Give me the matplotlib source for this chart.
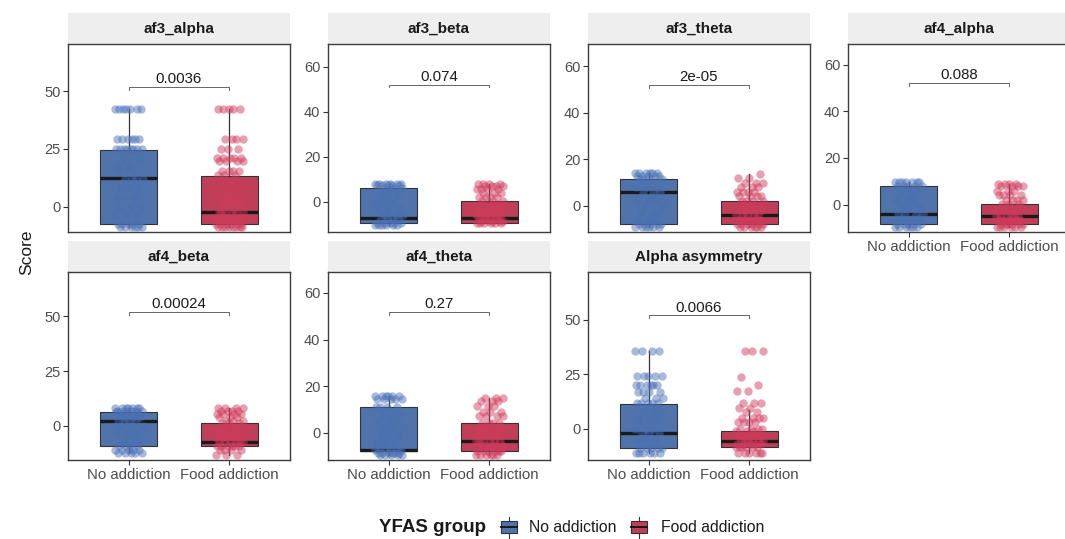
import matplotlib.pyplot as plt
from matplotlib.patches import Rectangle
import numpy as np

plt.rcParams['font.family'] = ['Liberation Sans', 'DejaVu Sans']

# facets in facet_wrap order
panels = ['af3_alpha', 'af3_beta', 'af3_theta', 'af4_alpha',
          'af4_beta', 'af4_theta', 'Alpha asymmetry']
groups = ['No addiction', 'Food addiction']
p_values = ['0.0036', '0.074', '2e-05', '0.088', '0.00024', '0.27', '0.0066']

# box statistics per panel: whisker low, Q1, median, Q3, whisker high
no_whislo = [-8.8, -10.5, -9.0, -9.5, -12.5, -9.6, -11.1]
no_q1 = [-7.7, -9.7, -8.0, -8.4, -9.0, -7.7, -8.9]
no_med = [12.2, -7.4, 6.1, -4.0, 2.3, -7.2, -1.7]
no_q3 = [24.6, 6.0, 11.4, 8.1, 6.3, 11.2, 11.5]
no_whishi = [42.4, 8.0, 14.0, 9.5, 8.1, 15.8, 35.9]

food_whislo = [-8.8, -9.7, -9.0, -9.5, -13.0, -9.5, -11.0]
food_q1 = [-7.7, -9.7, -8.0, -8.4, -9.0, -7.7, -8.4]
food_med = [-2.2, -7.2, -4.0, -4.8, -7.2, -3.4, -5.4]
food_q3 = [13.4, 0.3, 2.2, 0.3, 1.2, 4.0, -0.8]
food_whishi = [42.4, 8.0, 13.5, 9.0, 8.0, 15.0, 8.7]

# individual scores as (value, count)
no_points = [
    [(42.4, 7), (29.2, 6), (25.0, 8), (21.0, 2), (17.0, 2), (12.0, 4), (8.0, 3),
     (4.0, 3), (0.0, 3), (-4.0, 3), (-7.7, 5), (-8.8, 6)],
    [(8.0, 6), (7.2, 5), (6.0, 4), (3.0, 3), (0.0, 3), (-3.0, 3), (-6.0, 3),
     (-7.5, 4), (-9.7, 5), (-10.5, 6)],
    [(14.0, 6), (13.0, 5), (11.4, 4), (8.0, 3), (6.1, 3), (3.0, 3), (0.0, 2),
     (-3.0, 3), (-6.0, 3), (-8.0, 5), (-9.0, 6)],
    [(9.5, 7), (8.1, 5), (5.0, 3), (2.0, 3), (-1.0, 3), (-4.0, 4), (-6.0, 3),
     (-8.4, 5), (-9.5, 6)],
    [(8.1, 7), (7.0, 5), (6.3, 4), (4.0, 3), (2.3, 4), (0.0, 3), (-3.0, 3),
     (-6.0, 3), (-9.0, 4), (-11.0, 5), (-12.5, 5)],
    [(15.8, 6), (14.5, 5), (11.2, 4), (8.0, 3), (5.0, 3), (2.0, 3), (-1.0, 3),
     (-4.0, 3), (-7.4, 6), (-8.5, 6), (-9.6, 5)],
    [(35.9, 4), (24.3, 5), (20.2, 6), (17.0, 4), (14.0, 3), (11.8, 5), (8.0, 3),
     (4.0, 3), (0.0, 3), (-1.7, 3), (-5.0, 3), (-8.9, 5), (-11.1, 6)],
]
food_points = [
    [(42.4, 5), (29.2, 4), (25.0, 3), (21.2, 5), (19.7, 4), (15.4, 4), (13.5, 3),
     (10.0, 3), (6.0, 3), (2.0, 4), (-2.2, 6), (-5.0, 5), (-7.7, 6), (-8.8, 8)],
    [(8.0, 4), (7.0, 4), (5.5, 4), (4.0, 3), (2.0, 4), (0.3, 3), (-2.0, 4),
     (-4.0, 4), (-6.0, 4), (-7.2, 6), (-8.5, 5), (-9.7, 6)],
    [(13.5, 1), (12.0, 2), (10.0, 3), (8.0, 3), (6.0, 4), (4.0, 4), (2.2, 4),
     (0.0, 4), (-2.0, 4), (-4.0, 5), (-6.0, 5), (-8.0, 6), (-9.0, 6)],
    [(9.0, 4), (8.0, 4), (6.0, 3), (4.0, 4), (2.0, 4), (0.3, 3), (-2.0, 4),
     (-4.8, 6), (-6.5, 5), (-8.4, 6), (-9.5, 6)],
    [(8.0, 4), (7.0, 4), (5.5, 4), (4.0, 3), (2.5, 3), (1.2, 3), (-1.0, 3),
     (-3.0, 4), (-5.0, 4), (-7.2, 6), (-9.0, 6), (-11.0, 4), (-13.0, 3)],
    [(15.0, 3), (13.5, 3), (11.5, 3), (9.0, 3), (7.0, 4), (4.0, 4), (2.0, 4),
     (0.0, 4), (-3.4, 6), (-5.5, 5), (-7.7, 6), (-9.5, 6)],
    [(35.9, 3), (24.0, 1), (20.2, 1), (17.4, 2), (11.8, 3), (9.6, 2), (8.0, 2),
     (5.0, 4), (3.0, 4), (0.0, 4), (-0.8, 3), (-3.0, 5), (-5.4, 6), (-7.0, 5),
     (-8.4, 6), (-11.0, 6)],
]

y_limits = [(-11, 70.5), (-13.5, 70), (-11.3, 69.6), (-11.7, 68.8),
            (-15.5, 70.2), (-11.7, 69), (-14.2, 71.9)]
y_ticks = [[0, 25, 50], [0, 20, 40, 60], [0, 20, 40, 60], [0, 20, 40, 60],
           [0, 25, 50], [0, 20, 40, 60], [0, 25, 50]]
bracket_y = 52

box_colors = ['#4F73AA', '#C03E57']
point_colors = ['#4A70B5', '#CF3A5C']
edge = '#333333'

W, H = 1065, 539
fig = plt.figure(figsize=(W / 100, H / 100), dpi=100)


def px_axes(x0, y0, w, h):
    return fig.add_axes([x0 / W, 1 - (y0 + h) / H, w / W, h / H])


col_x = [68, 328, 588, 848]
row_strip = [13, 241]
strip_h = 31
panel_h = 188
panel_w = 222


def jitter(n, start):
    idx = np.arange(start, start + n)
    return ((idx * 0.618034 + 0.31) % 1 - 0.5) * 2 * 0.14


for k, name in enumerate(panels):
    r, c = divmod(k, 4)
    x0 = col_x[c]
    ys = row_strip[r]

    strip = px_axes(x0, ys, panel_w, strip_h)
    strip.set_facecolor('#EEEEEE')
    strip.set_xticks([])
    strip.set_yticks([])
    for s in strip.spines.values():
        s.set_visible(False)
    strip.text(0.5, 0.48, name, ha='center', va='center', fontsize=11,
               fontweight='bold', color='#1A1A1A', transform=strip.transAxes)

    ax = px_axes(x0, ys + strip_h, panel_w, panel_h)
    stats = [
        dict(whislo=no_whislo[k], q1=no_q1[k], med=no_med[k], q3=no_q3[k],
             whishi=no_whishi[k], fliers=[]),
        dict(whislo=food_whislo[k], q1=food_q1[k], med=food_med[k], q3=food_q3[k],
             whishi=food_whishi[k], fliers=[]),
    ]
    bp = ax.bxp(stats, positions=[1, 2], widths=0.56, patch_artist=True,
                showcaps=False, showfliers=False,
                boxprops=dict(edgecolor=edge, linewidth=0.8),
                whiskerprops=dict(color=edge, linewidth=0.9),
                medianprops=dict(color='#1A1A1A', linewidth=2.4),
                zorder=2)
    for patch, col in zip(bp['boxes'], box_colors):
        patch.set_facecolor(col)

    for g, pts in enumerate([no_points[k], food_points[k]]):
        vals = np.concatenate([[v] * n for v, n in pts])
        xs = (g + 1) + jitter(len(vals), 7 * g + k)
        ax.scatter(xs, vals, s=36, color=point_colors[g], alpha=0.48,
                   linewidths=0, zorder=3)

    # comparison bracket with p-value
    tip = 1.3
    ax.plot([1, 1, 2, 2], [bracket_y - tip, bracket_y, bracket_y, bracket_y - tip],
            color='#666666', linewidth=0.7, zorder=4)
    ax.text(1.5, bracket_y + 0.4, p_values[k], ha='center', va='bottom',
            fontsize=10.8, color='#1A1A1A')

    ax.set_xlim(0.4, 2.6)
    ax.set_ylim(*y_limits[k])
    ax.set_yticks(y_ticks[k])
    ax.set_yticklabels([str(t) for t in y_ticks[k]])
    for s in ax.spines.values():
        s.set_color('#3C3C3C')
        s.set_linewidth(1.0)
    ax.tick_params(axis='y', length=3.5, width=0.8, color='#333333',
                   labelcolor='#4D4D4D', labelsize=10.5, pad=2)
    if k >= 3:
        ax.set_xticks([1, 2])
        ax.set_xticklabels(groups)
        ax.tick_params(axis='x', length=3.5, width=0.8, color='#333333',
                       labelcolor='#4D4D4D', labelsize=10.8, pad=2)
    else:
        ax.set_xticks([])

fig.text(27 / W, 1 - 252 / H, 'Score', rotation=90, ha='center', va='center',
         fontsize=12.5, color='#1A1A1A')

# legend drawn on a full-figure overlay in pixel units
leg = fig.add_axes([0, 0, 1, 1], facecolor='none')
leg.set_xlim(0, W)
leg.set_ylim(H, 0)
leg.axis('off')
leg.text(486, 527, 'YFAS group', ha='right', va='center', fontsize=13.5,
         fontweight='bold', color='#1A1A1A')
for kx, tx, col, label in [(501, 529, box_colors[0], groups[0]),
                           (631, 661, box_colors[1], groups[1])]:
    leg.plot([kx + 8, kx + 8], [517, 538], color=edge, linewidth=0.8)
    leg.add_patch(Rectangle((kx, 521), 16, 12, facecolor=col, edgecolor=edge,
                            linewidth=0.8, zorder=3))
    leg.plot([kx, kx + 16], [527, 527], color='#1A1A1A', linewidth=1.4, zorder=4)
    leg.text(tx, 527, label, ha='left', va='center', fontsize=11.3,
             color='#1A1A1A')

fig.savefig('out.png', dpi=100, facecolor='white')
